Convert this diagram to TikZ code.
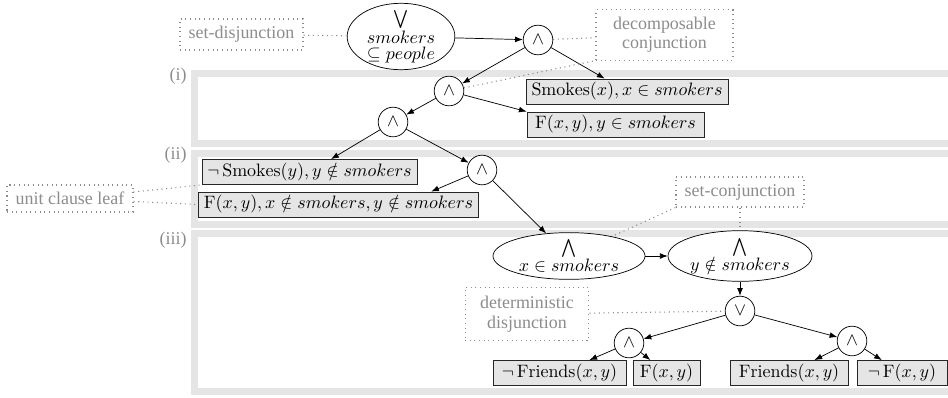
\documentclass[tikz,border=0pt]{standalone}
\usepackage{fontspec}
\newfontfamily\notefont{Liberation Serif}
\usetikzlibrary{shapes.geometric,arrows.meta,calc}

\begin{document}
\begin{tikzpicture}[x=0.557pt, y=-0.557pt, >={Latex[length=4.3pt]},
  gate/.style={draw, circle, fill=white, minimum size=16.5pt, inner sep=0pt},
  setnode/.style={draw, ellipse, fill=white, inner sep=0pt, align=center},
  leaf/.style={draw=black!85, fill=black!10, rectangle, minimum height=14pt, inner xsep=3pt, inner ysep=0pt},
  note/.style={draw=black!45, dotted, line width=0.6pt, text=black!45, font=\notefont, align=center, inner sep=2pt},
  noteline/.style={draw=black!45, dotted, line width=0.6pt},
  layer/.style={draw=black!10, line width=3.9pt},
  layerlabel/.style={text=black!45, font=\notefont, anchor=east, inner sep=0pt}]

  \useasboundingbox (0,0) rectangle (948,398);
  \clip (0,0) rectangle (948,398);

  % layers
  \draw[layer] (194.5,73.5) rectangle (990,143.5);
  \draw[layer] (194.5,153.5) rectangle (990,224.5);
  \draw[layer] (194.5,233.5) rectangle (990,391.5);
  \node[layerlabel] (li) at (187,76) {(i)};
  \node[layerlabel] (lii) at (187,155.5) {(ii)};
  \node[layerlabel] (liii) at (187,240) {(iii)};

  % circuit
  \node[setnode, inner sep=-1.5pt, minimum width=60pt, minimum height=37pt] (root) at (401,36.5)
    {$\bigvee$\\[-1.2pt] $smokers$\\[-3.2pt] $\subseteq people$};
  \node[gate] (and1) at (538,40) {$\wedge$};
  \node[gate] (and2) at (449,91) {$\wedge$};
  \node[gate] (and3) at (393,122) {$\wedge$};
  \node[gate] (and4) at (482,170) {$\wedge$};
  \node[leaf, minimum width=112.5pt] (smx) at (627,91.5) {$\mathrm{Smokes}(x), x \in smokers$};
  \node[leaf, minimum width=98.6pt] (fxy1) at (615.5,124.5) {$\mathrm{F}(x,y), y \in smokers$};
  \node[leaf, minimum width=119.8pt] (nsmy) at (309.5,172) {$\neg\,\mathrm{Smokes}(y), y \notin smokers$};
  \node[leaf, minimum width=154.3pt] (fxy2) at (338.5,204.5) {$\mathrm{F}(x,y), x \notin smokers, y \notin smokers$};
  \node[setnode, minimum width=84.7pt, minimum height=26pt] (xin) at (569,256)
    {$\bigwedge$\\[-1.5pt] $x \in smokers$};
  \node[setnode, minimum width=80.2pt, minimum height=26pt] (ynot) at (740,256)
    {$\bigwedge$\\[-1.5pt] $y \notin smokers$};
  \node[gate] (or2) at (740,311) {$\vee$};
  \node[gate] (and5) at (629,343) {$\wedge$};
  \node[gate] (and6) at (852,341) {$\wedge$};
  \node[leaf, minimum width=74.1pt] (nfr) at (559.5,373) {$\neg\,\mathrm{Friends}(x,y)$};
  \node[leaf, minimum width=37.3pt] (fxy3) at (666.5,373) {$\mathrm{F}(x,y)$};
  \node[leaf, minimum width=65.7pt] (fr) at (789,373) {$\mathrm{Friends}(x,y)$};
  \node[leaf, minimum width=50.1pt] (nf) at (902,373) {$\neg\,\mathrm{F}(x,y)$};

  \draw[->] (root) -- (and1);
  \draw[->] (and1) -- (and2);
  \draw[->] (and1) -- (smx);
  \draw[->] (and2) -- (and3);
  \draw[->] (and2) -- (fxy1.north west);
  \draw[->] (and3) -- (nsmy);
  \draw[->] (and3) -- (and4);
  \draw[->] (and4) -- ($(fxy2.north)!0.66!(fxy2.north east)$);
  \draw[->] (and4) -- (xin);
  \draw[->] (xin) -- (ynot);
  \draw[->] (ynot) -- (or2);
  \draw[->] (or2) -- (and5);
  \draw[->] (or2) -- (and6);
  \draw[->] (and5) -- (nfr);
  \draw[->] (and5) -- (fxy3);
  \draw[->] (and6) -- (fr);
  \draw[->] (and6) -- (nf);

  % annotations
  \node[note, minimum width=68.5pt, minimum height=17.3pt] (sdisj) at (241.5,34.5) {set-disjunction};
  \node[note, minimum width=76.3pt, minimum height=27.9pt] (decomp) at (664.5,35) {decomposable\\[-1.4pt] conjunction};
  \node[note, minimum width=70.2pt, minimum height=15pt] (unit) at (70,198.5) {unit clause leaf};
  \node[note, minimum width=71.3pt, minimum height=16.7pt] (setconj) at (740,192) {set-conjunction};
  \node[note, minimum width=69pt, minimum height=29.5pt] (detdisj) at (527,314) {deterministic\\[-1pt] disjunction};

  \draw[noteline] (sdisj) -- (root);
  \draw[noteline] (and1) -- (decomp);
  \draw[noteline] (and2) -- (decomp.south west);
  \draw[noteline] (unit) -- (nsmy.south west);
  \draw[noteline] (unit) -- (fxy2.west);
  \draw[noteline] (setconj) -- (ynot);
  \draw[noteline] (setconj.south west) -- (xin);
  \draw[noteline] (detdisj) -- (or2);
\end{tikzpicture}
\end{document}
